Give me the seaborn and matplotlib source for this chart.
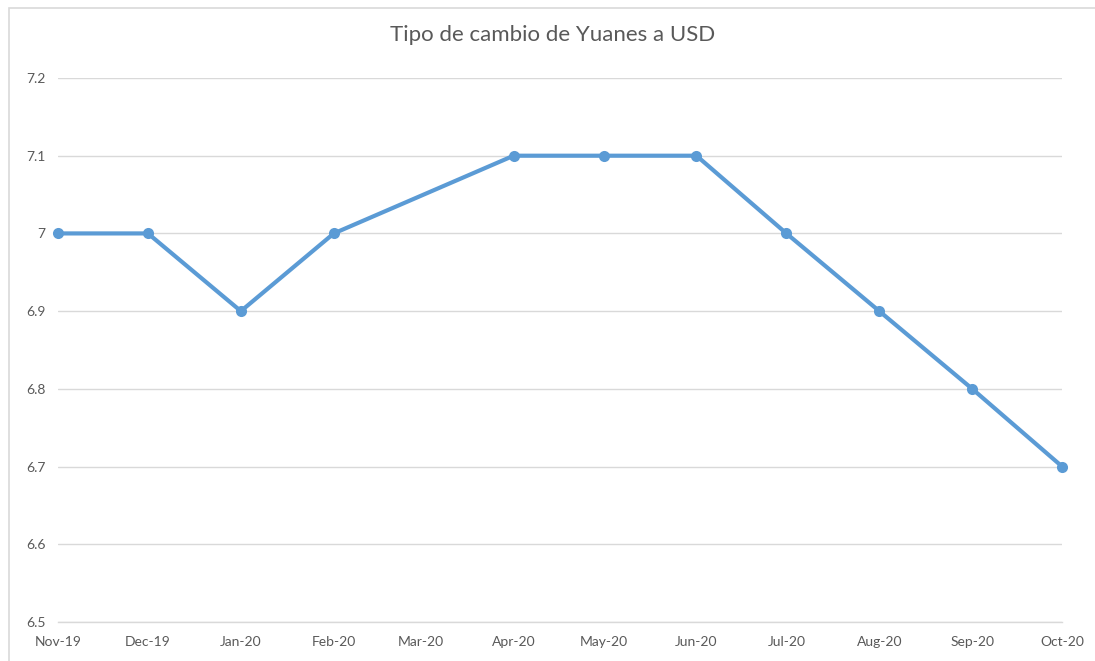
import pandas as pd
import seaborn as sns
import matplotlib.pyplot as plt
import matplotlib.dates as mdates
from matplotlib.patches import Rectangle

# Data
fechas = ["2019-11-01", "2019-12-01", "2020-01-01", "2020-02-01", "2020-04-01",
          "2020-05-01", "2020-06-01", "2020-07-01", "2020-08-01", "2020-09-01",
          "2020-10-01"]
tipo_cambio = [7.0, 7.0, 6.9, 7.0, 7.1, 7.1, 7.1, 7.0, 6.9, 6.8, 6.7]
y_ticks = [6.5, 6.6, 6.7, 6.8, 6.9, 7.0, 7.1, 7.2]
y_labels = ["6.5", "6.6", "6.7", "6.8", "6.9", "7", "7.1", "7.2"]

df = pd.DataFrame({"fecha": pd.to_datetime(fechas), "valor": tipo_cambio})

sns.set_style("white")
plt.rcParams['font.family'] = ['Lato', 'DejaVu Sans']

text_color = "#595959"
line_color = "#5B9BD5"

fig = plt.figure(figsize=(10.95, 6.61), dpi=100)
ax = fig.add_axes([0.053, 0.059, 0.917, 0.823])

sns.lineplot(data=df, x="fecha", y="valor", ax=ax, color=line_color,
             linewidth=3, marker="o", markersize=8, markeredgewidth=0,
             zorder=3, clip_on=False)

ax.set_ylim(6.5, 7.2)
ax.set_yticks(y_ticks)
ax.set_yticklabels(y_labels)
ax.set_xlim(df["fecha"].min(), df["fecha"].max())
ax.xaxis.set_major_locator(mdates.MonthLocator())
ax.xaxis.set_major_formatter(mdates.DateFormatter("%b-%y"))

ax.grid(axis="y", color="#D9D9D9", linewidth=1)
ax.grid(axis="x", visible=False)
for side in ["top", "right", "left"]:
    ax.spines[side].set_visible(False)
ax.spines["bottom"].set_color("#D9D9D9")
ax.spines["bottom"].set_linewidth(1)

ax.tick_params(axis="x", colors=text_color, labelsize=10, length=5,
               direction="in", width=1, color="#D9D9D9", pad=10)
ax.tick_params(axis="y", colors=text_color, labelsize=10, length=0, pad=9)
ax.set_xlabel("")
ax.set_ylabel("")

fig.suptitle("Tipo de cambio de Yuanes a USD", x=0.505, y=0.962,
             fontsize=16, color=text_color)

# chart border
fig.patches.append(Rectangle((0.008, -0.02), 1.1, 0.008 + 1.0, transform=fig.transFigure,
                             fill=False, edgecolor="#D9D9D9", linewidth=1.2))

fig.savefig("out.png", dpi=100)
